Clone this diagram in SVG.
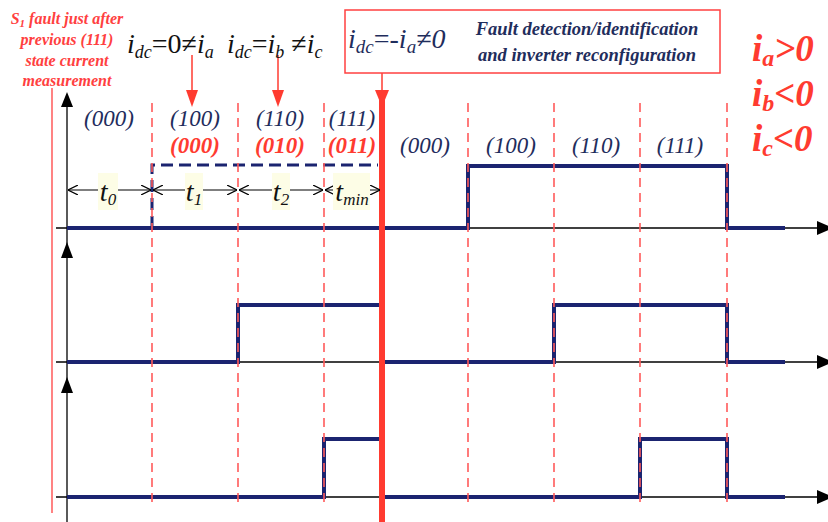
<svg xmlns="http://www.w3.org/2000/svg" width="828" height="522" viewBox="0 0 828 522">
<defs>
<style>
.ax{stroke:#000;stroke-width:1.3;fill:none}
.wave{stroke:#1b2470;stroke-width:4;fill:none;stroke-linejoin:miter}
.rd{stroke:#ff5a5a;stroke-width:1.6;stroke-dasharray:9 6;fill:none}
.nd{stroke:#1b2470;stroke-width:3;stroke-dasharray:12 6;fill:none}
.tarr{stroke:#000;stroke-width:1.2;fill:none}
.st{font-family:"Liberation Serif",serif;font-style:italic;font-size:23px;fill:#1f2d5c;text-anchor:middle}
.sr{font-family:"Liberation Serif",serif;font-style:italic;font-weight:bold;font-size:23px;fill:#ff3b30;text-anchor:middle}
.eq{font-family:"Liberation Serif",serif;font-size:28px;fill:#111}
.it{font-style:italic}
.note{font-family:"Liberation Serif",serif;font-style:italic;font-weight:bold;font-size:16px;fill:#ff4040;text-anchor:middle}
.box{font-family:"Liberation Serif",serif;font-style:italic;font-weight:bold;font-size:18.5px;fill:#1f2d5c;text-anchor:middle}
.cond{font-family:"Liberation Serif",serif;font-style:italic;font-weight:bold;font-size:37px;fill:#ff3b30}
.tl{font-family:"Liberation Serif",serif;font-style:italic;font-size:28px;fill:#111;text-anchor:middle}
.bg{fill:#fdfde6}
</style>
<marker id="ah" viewBox="0 0 10 10" refX="10" refY="5" markerWidth="10" markerHeight="10" markerUnits="userSpaceOnUse" orient="auto-start-reverse">
<path d="M0,0 L10,5 L0,10" fill="none" stroke="#000" stroke-width="1.2"/>
</marker>
</defs>
<rect width="828" height="522" fill="#fff"/>

<g id="axes">
<line class="ax" x1="67" y1="100" x2="67" y2="522"/>
<polygon points="67,92 61,107 73,107" fill="#000"/>
<polygon points="67,242 61,258 73,258" fill="#000"/>
<polygon points="67,377 61,393 73,393" fill="#000"/>
<line class="ax" x1="56" y1="228" x2="820" y2="228"/>
<line class="ax" x1="56" y1="362" x2="820" y2="362"/>
<line class="ax" x1="56" y1="497" x2="820" y2="497"/>
<polygon points="817,221 817,235 833,228" fill="#000"/>
<polygon points="817,355 817,369 833,362" fill="#000"/>
<polygon points="817,490 817,504 833,497" fill="#000"/>
</g>

<g id="waveforms">
<polyline class="wave" points="67,228 381,228"/>
<polyline class="wave" points="381,228 468,228 468,166 727,166 727,228 785,228"/>
<polyline class="wave" points="67,362 238,362 238,305 381,305"/>
<polyline class="wave" points="385,362 554,362 554,305 727,305 727,362 785,362"/>
<polyline class="wave" points="67,497 324,497 324,439 381,439"/>
<polyline class="wave" points="385,497 640,497 640,439 727,439 727,497 785,497"/>
<polyline class="nd" points="152,228 152,165 378,165"/>
</g>

<g id="connectors">
<line class="rd" x1="152" y1="103" x2="152" y2="508"/>
<line class="rd" x1="238" y1="103" x2="238" y2="508"/>
<line class="rd" x1="324" y1="103" x2="324" y2="508"/>
<line class="rd" x1="468" y1="103" x2="468" y2="508"/>
<line class="rd" x1="554" y1="103" x2="554" y2="508"/>
<line class="rd" x1="640" y1="103" x2="640" y2="508"/>
<line class="rd" x1="727" y1="103" x2="727" y2="508"/>
<line x1="52" y1="88" x2="52" y2="513" stroke="#ff4040" stroke-width="1.3"/>
<line x1="192" y1="55" x2="192" y2="92" stroke="#ff3b30" stroke-width="1.5"/>
<polygon points="186,90 198,90 192,107" fill="#ff3b30"/>
<line x1="278" y1="55" x2="278" y2="92" stroke="#ff3b30" stroke-width="1.5"/>
<polygon points="272,90 284,90 278,107" fill="#ff3b30"/>
<line x1="382" y1="73" x2="382" y2="92" stroke="#ff3b30" stroke-width="1.5"/>
<polygon points="375,90 389,90 382,107" fill="#ff3b30"/>
<line x1="382" y1="100" x2="382" y2="522" stroke="#ff3b30" stroke-width="6"/>
<line class="tarr" x1="68" y1="190" x2="151" y2="190" marker-start="url(#ah)" marker-end="url(#ah)"/>
<line class="tarr" x1="153" y1="190" x2="237" y2="190" marker-start="url(#ah)" marker-end="url(#ah)"/>
<line class="tarr" x1="239" y1="190" x2="323" y2="190" marker-start="url(#ah)" marker-end="url(#ah)"/>
<line class="tarr" x1="325" y1="190" x2="380" y2="190" marker-start="url(#ah)" marker-end="url(#ah)"/>
</g>

<g id="time-labels">
<rect class="bg" x="98" y="173" width="20" height="37"/>
<text class="tl" x="108" y="201">t<tspan font-size="17" dy="4">0</tspan></text>
<rect class="bg" x="185" y="173" width="18" height="37"/>
<text class="tl" x="194" y="201">t<tspan font-size="17" dy="4">1</tspan></text>
<rect class="bg" x="272" y="173" width="18" height="37"/>
<text class="tl" x="281" y="201">t<tspan font-size="17" dy="4">2</tspan></text>
<rect class="bg" x="333" y="173" width="37" height="37"/>
<text class="tl" x="352" y="201">t<tspan font-size="17" dy="4">min</tspan></text>
</g>

<g id="state-labels">
<text class="st" x="109" y="126">(000)</text>
<text class="st" x="195" y="126">(100)</text>
<text class="st" x="280" y="126">(110)</text>
<text class="st" x="352" y="126">(111)</text>
<text class="sr" x="195" y="153">(000)</text>
<text class="sr" x="280" y="153">(010)</text>
<text class="sr" x="352" y="153">(011)</text>
<text class="st" x="425" y="153">(000)</text>
<text class="st" x="511" y="153">(100)</text>
<text class="st" x="596" y="153">(110)</text>
<text class="st" x="680" y="153">(111)</text>
</g>

<g id="note-left">
<text class="note" x="67" y="24">S<tspan font-size="11" dy="3">1</tspan><tspan dy="-3"> fault just after</tspan></text>
<text class="note" x="67" y="45">previous (111)</text>
<text class="note" x="67" y="66">state current</text>
<text class="note" x="67" y="86">measurement</text>
</g>

<g id="eq-labels">
<text class="eq" x="127" y="53"><tspan class="it">i</tspan><tspan class="it" font-size="18" dy="5">dc</tspan><tspan dy="-5">=0≠</tspan><tspan class="it">i</tspan><tspan class="it" font-size="18" dy="5">a</tspan></text>
<text class="eq" x="227" y="53"><tspan class="it">i</tspan><tspan class="it" font-size="18" dy="5">dc</tspan><tspan dy="-5">=</tspan><tspan class="it">i</tspan><tspan class="it" font-size="18" dy="5">b</tspan><tspan dy="-5"> ≠</tspan><tspan class="it">i</tspan><tspan class="it" font-size="18" dy="5">c</tspan></text>
</g>

<g id="fault-box">
<rect x="345" y="10" width="375" height="63" fill="#fff" stroke="#ff4040" stroke-width="1.5"/>
<text class="eq" x="348" y="48" font-size="30" style="fill:#1f2d5c"><tspan class="it">i</tspan><tspan class="it" font-size="19" dy="5">dc</tspan><tspan dy="-5">=-</tspan><tspan class="it">i</tspan><tspan class="it" font-size="19" dy="5">a</tspan><tspan dy="-5" class="it">≠0</tspan></text>
<text class="box" x="587" y="35">Fault  detection/identification</text>
<text class="box" x="587" y="61">and inverter reconfiguration</text>
</g>

<g id="conditions">
<text class="cond" x="752" y="61">i<tspan font-size="24" dy="5">a</tspan><tspan dy="-5">&gt;0</tspan></text>
<text class="cond" x="752" y="106">i<tspan font-size="24" dy="5">b</tspan><tspan dy="-5">&lt;0</tspan></text>
<text class="cond" x="752" y="151">i<tspan font-size="24" dy="5">c</tspan><tspan dy="-5">&lt;0</tspan></text>
</g>
</svg>
